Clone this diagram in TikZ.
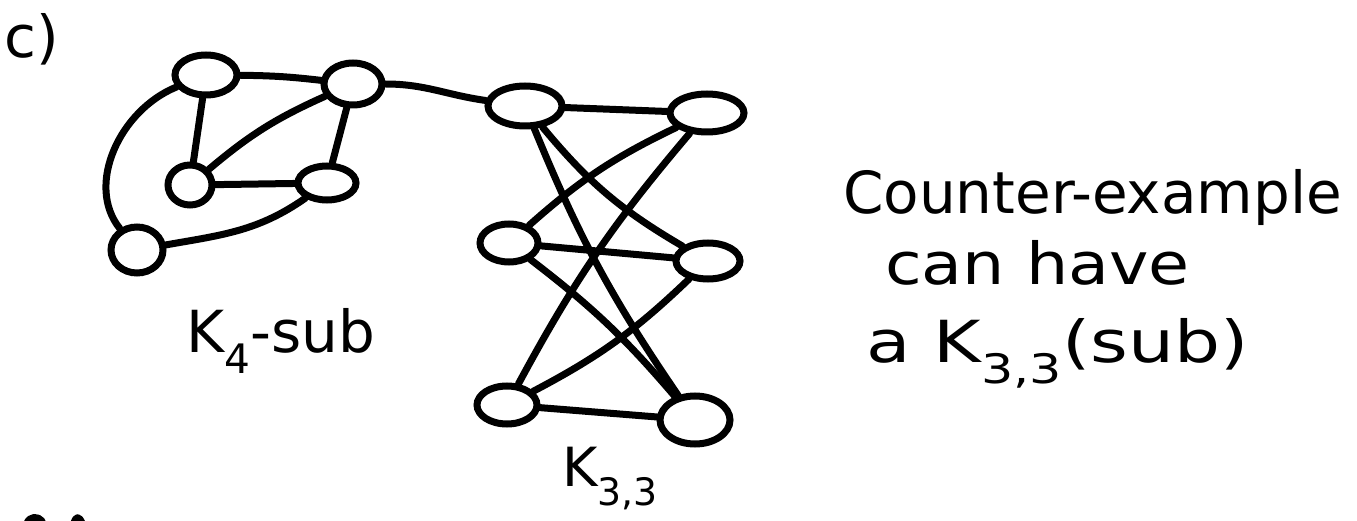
\documentclass[tikz,border=0pt]{standalone}
\usepackage{fontspec}
\setmainfont{DejaVu Sans}
\usetikzlibrary{shapes.geometric}
\tikzset{
  vtx/.style={ellipse, draw=black, line width=7pt, inner sep=0pt},
  edge/.style={line width=7pt, line cap=round, line join=round},
  hand/.style={font=\fontsize{58}{70}\selectfont, inner sep=0pt, anchor=base west},
}
\begin{document}
\begin{tikzpicture}[x=1pt, y=-1pt]
\useasboundingbox (0,0) rectangle (1357,521);

% part label
\node[hand] (lbl) at (4,58) {c)};

% K4 subdivision
\node[vtx, minimum width=62pt, minimum height=40pt] (a) at (206,75) {};
\node[vtx, minimum width=58pt, minimum height=42pt] (b) at (353,84) {};
\node[vtx, minimum width=44pt, minimum height=40pt] (c) at (190,185) {};
\node[vtx, minimum width=58pt, minimum height=34pt] (d) at (327,183) {};
\node[vtx, minimum width=52pt, minimum height=46pt] (e) at (137,250) {};

\draw[edge] (a) to[bend left=3] (b);
\draw[edge] (a) -- (c);
\draw[edge] (b) to[bend right=8] (c);
\draw[edge] (b) -- (d);
\draw[edge] (c) -- (d);
\draw[edge] (d) to[out=215, in=10] (e);
\draw[edge] (a) .. controls (120,110) and (85,185) .. (e);

% K3,3
\node[vtx, minimum width=74pt, minimum height=40pt] (t1) at (525,106) {};
\node[vtx, minimum width=74pt, minimum height=38pt] (t2) at (707,113) {};
\node[vtx, minimum width=58pt, minimum height=38pt] (m1) at (509,243) {};
\node[vtx, minimum width=64pt, minimum height=36pt] (m2) at (708,261) {};
\node[vtx, minimum width=60pt, minimum height=38pt] (l1) at (507,405) {};
\node[vtx, minimum width=70pt, minimum height=48pt] (l2) at (695,420) {};

% bridge between the two graphs
\draw[edge] (b) to[out=0, in=172] (t1);

\draw[edge] (t1) -- (t2);
\draw[edge] (t1) to[bend right=10] (m2);
\draw[edge] (t1) to[bend right=6] (l2);
\draw[edge] (m1) to[bend left=8] (t2);
\draw[edge] (m1) -- (m2);
\draw[edge] (m1) to[bend left=6] (l2);
\draw[edge] (l1) to[bend left=6] (t2);
\draw[edge] (l1) to[bend right=8] (m2);
\draw[edge] (l1) -- (l2);

% graph labels
\node[hand] (k4) at (186,352) {K\textsubscript{4}-sub};
\node[hand, font=\fontsize{54}{64}\selectfont] (k33) at (562,486) {K\textsubscript{3,3}};

% remark
\node[hand] (r1) at (843,214) {Counter-example};
\node[hand] (r2) at (885,285) {\scalebox{1.15}[1]{can have}};
\node[hand] (r3) at (866,362) {\scalebox{1.25}[1]{a K\textsubscript{3,3}(sub)}};

% cut-off strokes of the next part label
\coordinate (p1) at (27,523);
\coordinate (p2) at (42,521);
\coordinate (p3) at (74,523);
\coordinate (p4) at (82,523);
\draw[edge] (p1) .. controls (30,516) and (38,516) .. (p2);
\draw[edge] (p3) .. controls (76,516) and (79,516) .. (p4);
\end{tikzpicture}
\end{document}
